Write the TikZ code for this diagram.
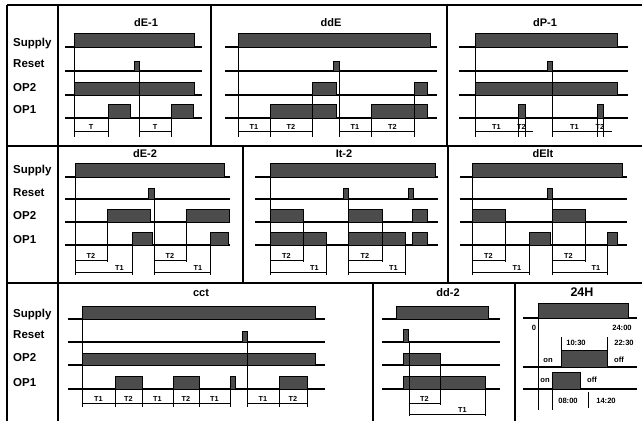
\documentclass[tikz,border=0pt]{standalone}
\usepackage{fontspec}
\setmainfont{Liberation Sans}
\newcount\bcnt
\newcommand\bl[6]{\foreach \yy in {#3,#4,#5,#6} \draw[base] (#1,\yy)--(#2,\yy);}
\newcommand\pu[4]{\draw[pulse] (#1,#3) rectangle (#2,#4);}
\newcommand\vv[3]{\draw[vl] (#1,#2)--(#1,#3);}
\newcommand\br[5]{\global\advance\bcnt by 1 \draw[vl] (#1,#3)--(#2,#3); \node[tl] (br\the\bcnt) at (#5,#3-2) {#4};}
\begin{document}
\begin{tikzpicture}[x=1pt,y=-1pt,
  frame/.style={line width=1.1pt},
  base/.style={line width=1.5pt},
  pulse/.style={draw=black,line width=1pt,fill=black!70},
  vl/.style={line width=1pt},
  lab/.style={font=\fontsize{11.5}{13}\selectfont\bfseries,anchor=base west,inner sep=0pt},
  ttl/.style={font=\fontsize{11}{13}\selectfont\bfseries,anchor=base,inner sep=0pt},
  tl/.style={font=\fontsize{7.3}{8}\selectfont\bfseries,anchor=base,inner sep=0pt},
  tm/.style={font=\fontsize{7.6}{9}\selectfont\bfseries,anchor=base,inner sep=0pt}]
\useasboundingbox (0,0) rectangle (642,421);
\fill[white] (0,0) rectangle (642,421);
% frame
\draw[frame] (7,5)--(642,5) (7,146)--(642,146) (7,283)--(642,283);
\draw[frame] (7,5)--(7,421) (58,5)--(58,421);
\draw[frame] (211,5)--(211,146) (447,5)--(447,146);
\draw[frame] (243,146)--(243,283) (448,146)--(448,283);
\draw[frame] (373,283)--(373,421) (515,283)--(515,421);
% row labels
\node[lab] (s1) at (13,46) {Supply};
\node[lab] (r1) at (13,67) {Reset};
\node[lab] (o21) at (13,91) {OP2};
\node[lab] (o11) at (13,113) {OP1};
\node[lab] (s2) at (13,173) {Supply};
\node[lab] (r2) at (13,196) {Reset};
\node[lab] (o22) at (13,219) {OP2};
\node[lab] (o12) at (13,243) {OP1};
\node[lab] (s3) at (13,317) {Supply};
\node[lab] (r3) at (13,338) {Reset};
\node[lab] (o23) at (13,361) {OP2};
\node[lab] (o13) at (13,386) {OP1};
% titles
\node[ttl] (tdE1) at (146,26) {dE-1};
\node[ttl] (tddE) at (331,26) {ddE};
\node[ttl] (tdP1) at (545,26) {dP-1};
\node[ttl] (tdE2) at (145,157) {dE-2};
\node[ttl] (tIt2) at (344,157) {It-2};
\node[ttl] (tdEIt) at (543,157) {dElt};
\node[ttl] (tcct) at (201,296) {cct};
\node[ttl] (tdd2) at (448,296) {dd-2};
\node[ttl,font=\fontsize{12.5}{14}\selectfont\bfseries] (t24H) at (582,296) {24H};
% ===== Row 1 =====
% dE-1
\bl{65}{202}{47}{71}{95}{118}
\pu{74}{194}{33}{47}
\pu{134}{139}{61}{71}
\pu{74}{194}{82}{95}
\pu{108}{130}{104}{118} \pu{171}{193}{104}{118}
\vv{74}{47}{137} \vv{139}{71}{137} \vv{108}{118}{137} \vv{171}{118}{137}
\br{74}{108}{131}{T}{91} \br{139}{171}{131}{T}{155}
% ddE
\bl{225}{437}{47}{71}{95}{118}
\pu{238}{430}{33}{47}
\pu{333}{339}{61}{71}
\pu{312}{336}{82}{95} \pu{414}{427}{82}{95}
\pu{270}{336}{104}{118} \pu{371}{427}{104}{118}
\vv{238}{47}{137} \vv{270}{118}{137} \vv{312}{95}{137} \vv{339}{71}{137} \vv{371}{118}{137} \vv{414}{95}{137}
\br{238}{270}{131}{T1}{254} \br{270}{312}{131}{T2}{291} \br{339}{371}{131}{T1}{355} \br{371}{414}{131}{T2}{392.5}
% dP-1
\bl{459}{628}{47}{71}{95}{118}
\pu{475}{617}{33}{47}
\pu{547}{552}{61}{71}
\pu{475}{617}{82}{95}
\pu{518}{525}{104}{118} \pu{597}{603}{104}{118}
\vv{475}{47}{137} \vv{518}{118}{137} \vv{525}{118}{137} \vv{552}{71}{137} \vv{597}{118}{137} \vv{603}{118}{137}
\br{475}{518}{131}{T1}{496.5} \br{518}{525}{131}{T2}{521.5} \br{552}{597}{131}{T1}{574.5} \br{597}{603}{131}{T2}{600}
\draw[vl] (525,131)--(533,131) (603,131)--(612,131);
% ===== Row 2 =====
% dE-2
\bl{65}{230}{177}{199}{222}{245}
\pu{75}{224}{163}{177}
\pu{148}{154}{188}{199}
\pu{107}{150}{209}{222} \pu{186}{229}{209}{222}
\pu{132}{152}{232}{245} \pu{210}{228}{232}{245}
\vv{75}{177}{275} \vv{107}{222}{262} \vv{132}{245}{275} \vv{154}{199}{275} \vv{186}{222}{262} \vv{210}{245}{275}
\br{75}{107}{260}{T2}{91} \br{75}{132}{272}{T1}{119.5} \br{154}{186}{260}{T2}{170} \br{154}{210}{272}{T1}{198}
% It-2
\bl{255}{438}{177}{199}{222}{245}
\pu{270}{435}{163}{177}
\pu{343}{348}{188}{199} \pu{408}{413}{188}{199}
\pu{270}{303}{209}{222} \pu{348}{382}{209}{222} \pu{412}{427}{209}{222}
\pu{270}{326}{232}{245} \pu{348}{405}{232}{245} \pu{412}{427}{232}{245}
\vv{270}{177}{275} \vv{303}{222}{262} \vv{326}{245}{275} \vv{348}{199}{275} \vv{382}{222}{262} \vv{405}{245}{275}
\br{270}{303}{260}{T2}{286.5} \br{270}{326}{272}{T1}{314.5} \br{348}{382}{260}{T2}{365} \br{348}{405}{272}{T1}{393.5}
% dElt
\bl{460}{627}{177}{199}{222}{245}
\pu{472}{622}{163}{177}
\pu{547}{552}{188}{199}
\pu{472}{505}{209}{222} \pu{552}{585}{209}{222}
\pu{529}{550}{232}{245} \pu{607}{617}{232}{245}
\vv{472}{177}{275} \vv{505}{222}{262} \vv{529}{245}{275} \vv{552}{199}{275} \vv{585}{222}{262} \vv{607}{245}{275}
\br{472}{505}{260}{T2}{488.5} \br{472}{529}{272}{T1}{517} \br{552}{585}{260}{T2}{568.5} \br{552}{607}{272}{T1}{596}
% ===== Row 3 =====
% cct
\bl{68}{325}{319}{342}{365}{389}
\pu{82}{315}{306}{319}
\pu{242}{247}{331}{342}
\pu{82}{315}{353}{365}
\pu{115}{142}{376}{389} \pu{173}{199}{376}{389} \pu{230}{235}{376}{389} \pu{279}{307}{376}{389}
\vv{82}{319}{407} \vv{115}{389}{407} \vv{142}{389}{407} \vv{173}{389}{407} \vv{199}{389}{407} \vv{230}{389}{407} \vv{247}{342}{407} \vv{279}{389}{407} \vv{307}{389}{407}
\br{82}{115}{403}{T1}{98.5} \br{115}{142}{403}{T2}{128.5} \br{142}{173}{403}{T1}{157.5} \br{173}{199}{403}{T2}{186} \br{199}{230}{403}{T1}{214.5} \br{247}{279}{403}{T1}{263} \br{279}{307}{403}{T2}{293}
% dd-2
\bl{382}{500}{319}{342}{365}{389}
\pu{396}{488}{306}{319}
\pu{403}{408}{329}{342}
\pu{403}{440}{353}{365}
\pu{403}{485}{376}{389}
\vv{409}{342}{416} \vv{440}{365}{405} \vv{485}{389}{416}
\br{409}{440}{403}{T2}{424.5} \br{409}{485}{414}{T1}{462.5}
% 24H
\draw[base] (523,318)--(637,318) (523,367)--(637,367) (523,389)--(637,389);
\pu{538}{628}{303}{318}
\pu{561}{607}{350}{367}
\pu{552}{580}{372}{389}
\vv{538}{318}{410} \vv{561}{337}{367} \vv{607}{337}{367} \vv{552}{389}{410} \vv{588}{392}{408}
\node[tm] (h0) at (534,330) {0};
\node[tm] (h2400) at (622,330) {24:00};
\node[tm] (h1030) at (576,345) {10:30};
\node[tm] (h2230) at (624,345) {22:30};
\node[tm] (on1) at (548,362) {on};
\node[tm] (off1) at (619,362) {off};
\node[tm] (on2) at (545,382) {on};
\node[tm] (off2) at (592,382) {off};
\node[tm] (h0800) at (568,403) {08:00};
\node[tm] (h1420) at (606,403) {14:20};
\end{tikzpicture}
\end{document}
